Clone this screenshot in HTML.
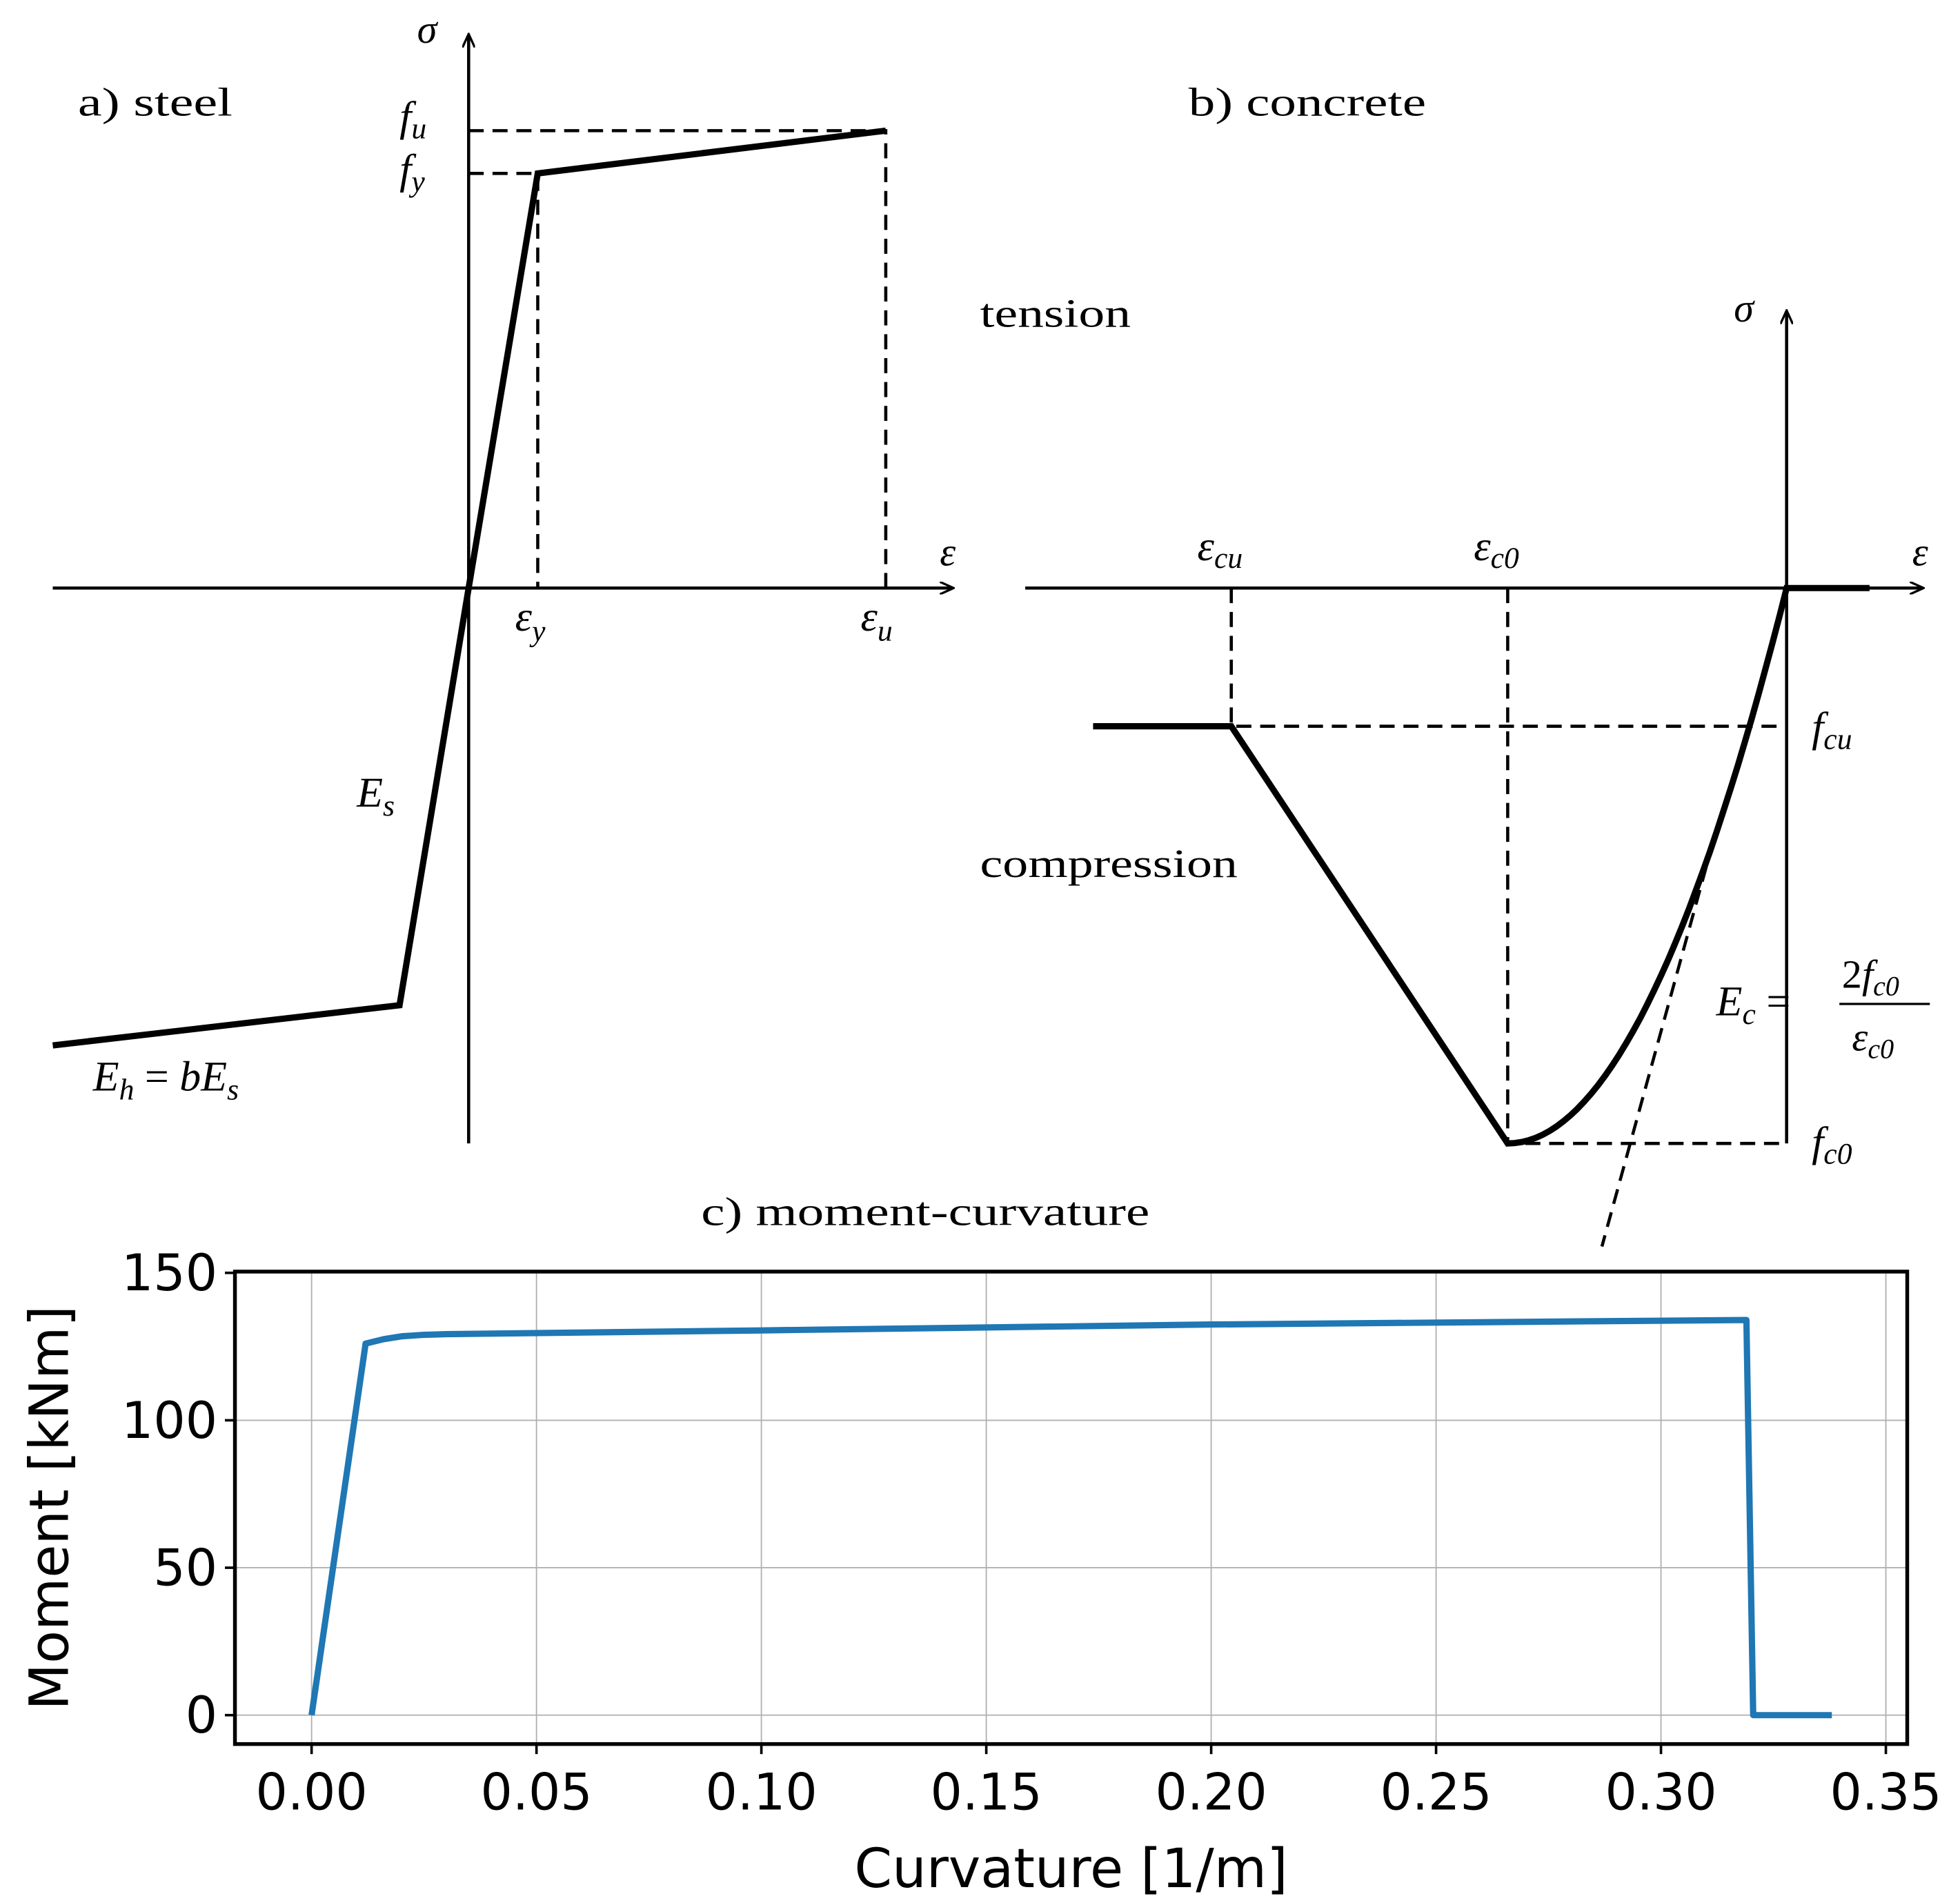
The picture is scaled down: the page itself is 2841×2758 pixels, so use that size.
<!DOCTYPE html>
<html><head><meta charset="utf-8"><style>
html,body{margin:0;padding:0;background:#fff;}
svg{display:block;}
.ser{font-family:"Liberation Serif",serif;}
.san{font-family:"DejaVu Sans","Liberation Sans",sans-serif;}
</style></head><body>
<svg id="fig" width="2841" height="2758" viewBox="0 0 1560 1514.5" preserveAspectRatio="none" xmlns="http://www.w3.org/2000/svg">
<defs><marker id="arr" markerWidth="12" markerHeight="10" refX="10" refY="5" orient="auto" markerUnits="userSpaceOnUse"><path d="M0,0 L11,5 L0,10" fill="none" stroke="#000" stroke-width="1.8"/></marker></defs>
<g class="ser">
<line x1="42" y1="468" x2="758" y2="468" stroke="#000" stroke-width="2.5" marker-end="url(#arr)"/>
<line x1="373" y1="910" x2="373" y2="28" stroke="#000" stroke-width="2.5" marker-end="url(#arr)"/>
<g stroke="#000" stroke-width="2.5" stroke-dasharray="12,7" fill="none">
<polyline points="373,104 705,104 705,468"/><polyline points="373,138 428,138 428,468"/></g>
<polyline points="42,832 318,800 373,468 428,138 705,104" fill="none" stroke="#000" stroke-width="5"/>
<text x="62" y="92" font-size="32" textLength="123" lengthAdjust="spacingAndGlyphs">a) steel</text>
<text x="332" y="34" font-size="32" font-style="italic">σ</text>
<text x="748" y="450" font-size="32" font-style="italic">ε</text>
<text x="318" y="104" font-size="34" font-style="italic">f<tspan font-size="24" dy="6">u</tspan></text>
<text x="318" y="146" font-size="34" font-style="italic">f<tspan font-size="24" dy="6">y</tspan></text>
<text x="410" y="502" font-size="34" font-style="italic">ε<tspan font-size="24" dy="8">y</tspan></text>
<text x="685" y="502" font-size="34" font-style="italic">ε<tspan font-size="24" dy="8">u</tspan></text>
<text x="284" y="642" font-size="34" font-style="italic">E<tspan font-size="24" dy="7">s</tspan></text>
<text x="74" y="868" font-size="34" font-style="italic">E<tspan font-size="24" dy="7">h</tspan><tspan dy="-7" font-style="normal"> = </tspan>bE<tspan font-size="24" dy="7">s</tspan></text>
</g>
<text x="780" y="260" font-size="32" textLength="120" lengthAdjust="spacingAndGlyphs" class="ser">tension</text>
<text x="780" y="698" font-size="32" textLength="205" lengthAdjust="spacingAndGlyphs" class="ser">compression</text>
<g class="ser">
<line x1="816" y1="468" x2="1530" y2="468" stroke="#000" stroke-width="2.5" marker-end="url(#arr)"/>
<line x1="1422" y1="910" x2="1422" y2="248" stroke="#000" stroke-width="2.5" marker-end="url(#arr)"/>
<g stroke="#000" stroke-width="2.5" stroke-dasharray="12,7" fill="none">
<polyline points="980,468 980,578 1422,578"/><polyline points="1200,468 1200,910 1422,910"/><line x1="1358" y1="690" x2="1275" y2="992"/></g>
<path id="concCurve" fill="none" stroke="#000" stroke-width="5"/>
<text x="953" y="446" font-size="34" font-style="italic">ε<tspan font-size="24" dy="6">cu</tspan></text>
<text x="1173" y="446" font-size="34" font-style="italic">ε<tspan font-size="24" dy="6">c0</tspan></text>
<text x="1380" y="256" font-size="32" font-style="italic">σ</text>
<text x="1522" y="450" font-size="32" font-style="italic">ε</text>
<text x="1442" y="590" font-size="34" font-style="italic">f<tspan font-size="24" dy="6">cu</tspan></text>
<text x="1442" y="920" font-size="34" font-style="italic">f<tspan font-size="24" dy="6">c0</tspan></text>
<text x="1366" y="808" font-size="34" font-style="italic">E<tspan font-size="24" dy="7">c</tspan><tspan dy="-7" font-style="normal"> = </tspan></text>
<text x="1466" y="786" font-size="32" font-style="italic"><tspan font-style="normal">2</tspan>f<tspan font-size="22" dy="6">c0</tspan></text>
<line x1="1464" y1="799" x2="1536" y2="799" stroke="#000" stroke-width="1.8"/>
<text x="1474" y="836" font-size="32" font-style="italic">ε<tspan font-size="22" dy="6">c0</tspan></text>
<text x="946" y="92" font-size="32" textLength="189" lengthAdjust="spacingAndGlyphs">b) concrete</text>
</g>
<g id="mc">
<text x="558" y="975" font-size="32" textLength="357" lengthAdjust="spacingAndGlyphs" class="ser">c) moment-curvature</text>
</g>
</svg>
<script>
(function(){
  var pts=["M870,578","L980,578","L1200,910"];
  for(var i=0;i<=40;i++){var eta=1-i/40;var x=1422-222*eta;var y=468+442*(2*eta-eta*eta);pts.push("L"+x.toFixed(1)+","+y.toFixed(1));}
  pts.push("L1488,468");
  document.getElementById('concCurve').setAttribute('d',pts.join(" "));
})();
var curvature=[0,0.012,0.016,0.02,0.025,0.03,0.1,0.2,0.319,0.3205,0.338];
var moment=[0,126,127.5,128.5,129,129.2,130.5,132.5,134,0,0];
var xTicks=[0,0.05,0.1,0.15,0.2,0.25,0.3,0.35];
var xTickLabels=["0.00","0.05","0.10","0.15","0.20","0.25","0.30","0.35"];
var yTicks=[0,50,100,150];
var yTickLabels=["0","50","100","150"];
var NS="http://www.w3.org/2000/svg";
var L=187,R=1518,T=1012,B=1388;
function X(v){return 248+v*(1501-248)/0.35;}
function Y(v){return 1365-v*(1365-1013)/150;}
var g=document.getElementById('mc');
function mk(t,a){var e=document.createElementNS(NS,t);for(var k in a)e.setAttribute(k,a[k]);g.appendChild(e);return e;}
xTicks.forEach(function(v,i){
  var l=mk('line',{x1:X(v),x2:X(v),y1:T,y2:B,stroke:'#b0b0b0','stroke-width':1});
  
  
  var tk=mk('line',{x1:X(v),x2:X(v),y1:B,y2:B+8,stroke:'#000','stroke-width':2});
  
  
  var t=mk('text',{x:X(v),y:B+52,'font-size':40,'text-anchor':'middle','class':'san'});
  t.textContent=xTickLabels[i];
  
  
});
yTicks.forEach(function(v,i){
  var l=mk('line',{x1:L,x2:R,y1:Y(v),y2:Y(v),stroke:'#b0b0b0','stroke-width':1});
  
  
  var tk=mk('line',{x1:L-8,x2:L,y1:Y(v),y2:Y(v),stroke:'#000','stroke-width':2});
  
  
  var t=mk('text',{x:L-14,y:Y(v)+14,'font-size':40,'text-anchor':'end','class':'san'});
  t.textContent=yTickLabels[i];
  
  
});
var d=curvature.map(function(c,i){return (i?'L':'M')+X(c).toFixed(1)+','+Y(moment[i]).toFixed(1);}).join(' ');
var p=mk('path',{d:d,fill:'none',stroke:'#1f77b4','stroke-width':5,'stroke-linejoin':'round'});


var f=mk('rect',{x:L,y:T,width:R-L,height:B-T,fill:'none',stroke:'#000','stroke-width':3});


var xl=mk('text',{x:(L+R)/2,y:1502,'font-size':43,'text-anchor':'middle','class':'san'});
xl.textContent='Curvature [1/m]';


var yl=mk('text',{x:0,y:0,'font-size':43,'text-anchor':'middle','class':'san',transform:'translate(54,1200) rotate(-90)'});
yl.textContent='Moment [kNm]';


</script>
</body></html>
